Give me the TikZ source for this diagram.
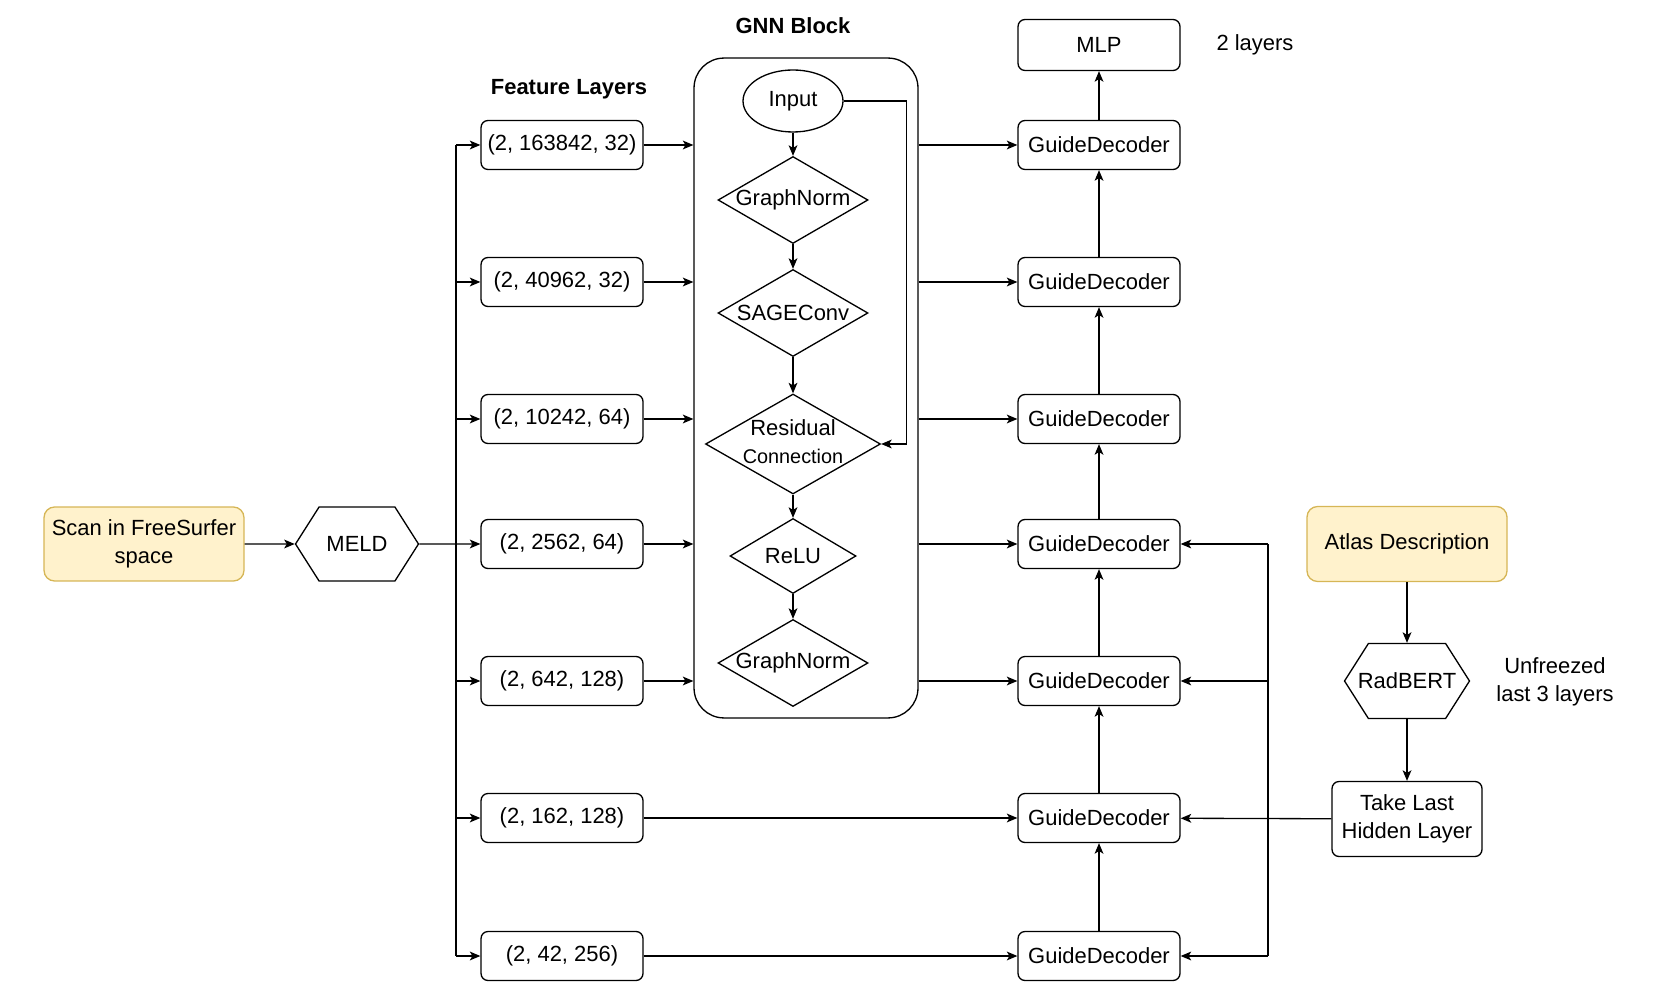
\documentclass[tikz,border=0pt]{standalone}
\usepackage{fontspec}
\setmainfont{Liberation Sans}
\usepackage{xcolor}
\usepackage{tikz}
\usetikzlibrary{shapes.geometric, shapes.misc, shapes.symbols, arrows.meta, positioning, calc}
\definecolor{noteyellow}{HTML}{FFF2CC}
\definecolor{noteedge}{HTML}{D6B656}

\begin{document}
\begin{tikzpicture}[
    x=0.02cm, y=-0.02cm,
    font=\fontsize{12.5}{16}\selectfont,
    box/.style={draw, line width=0.75pt, rounded corners=4pt, minimum width=3.24cm, minimum height=0.98cm, align=center, inner sep=1pt},
    note/.style={box, fill=noteyellow, draw=noteedge, rounded corners=6pt},
    hexa/.style={draw, line width=0.75pt, signal, signal to=west and east, signal pointer angle=115, inner sep=0pt},
    gate/.style={draw, line width=0.75pt, diamond, inner sep=0pt, minimum width=3cm, minimum height=1.74cm},
    title/.style={font=\fontsize{12.5}{15}\selectfont\bfseries},
    arrow/.style={-{Stealth[length=6pt, width=5pt, inset=1.5pt]}, line width=0.75pt},
    line/.style={line width=0.75pt}
]
    \useasboundingbox (0,0) rectangle (1673,996);

    % input side
    \node[note, minimum width=4cm, minimum height=1.48cm] at (144,544) (scan) {Scan in FreeSurfer\\space};
    \node[hexa, minimum width=2.46cm, minimum height=1.48cm] at (357,544) (meld) {\makebox[0pt]{MELD}};

    % feature layers
    \node[title] at (569,89) (feattitle) {Feature Layers};
    \node[box] at (562,145) (f1) {(2, 163842, 32)};
    \node[box] at (562,282) (f2) {(2, 40962, 32)};
    \node[box] at (562,419) (f3) {(2, 10242, 64)};
    \node[box] at (562,544) (f4) {(2, 2562, 64)};
    \node[box] at (562,681) (f5) {(2, 642, 128)};
    \node[box] at (562,818) (f6) {(2, 162, 128)};
    \node[box] at (562,956) (f7) {(2, 42, 256)};

    % GNN block
    \node[draw, line width=0.75pt, rounded corners=0.6cm, minimum width=4.48cm, minimum height=13.2cm] at (806,388) (gnn) {};
    \node[title] at (793,26) (gnntitle) {GNN Block};
    \node[draw, line width=0.75pt, ellipse, minimum width=2cm, minimum height=1.24cm, inner sep=0pt] at (793,101) (input) {Input};
    \node[gate] at (793,200) (norm1) {\makebox[0pt]{GraphNorm}};
    \node[gate] at (793,313) (sage) {\makebox[0pt]{SAGEConv}};
    \node[gate, minimum width=3.5cm, minimum height=2cm] at (793,444) (res) {\makebox[0pt]{\begin{tabular}{@{}c@{}}Residual\\{\fontsize{11.3}{13}\selectfont Connection}\end{tabular}}};
    \node[gate, minimum width=2.52cm, minimum height=1.5cm] at (793,556) (relu) {\makebox[0pt]{ReLU}};
    \node[gate] at (793,663) (norm2) {\makebox[0pt]{GraphNorm}};

    % decoders
    \node[box, minimum height=1.02cm] at (1099,45) (mlp) {MLP};
    \node at (1255,45) (mlpnote) {2 layers};
    \node[box] at (1099,145) (gd1) {GuideDecoder};
    \node[box] at (1099,282) (gd2) {GuideDecoder};
    \node[box] at (1099,419) (gd3) {GuideDecoder};
    \node[box] at (1099,544) (gd4) {GuideDecoder};
    \node[box] at (1099,681) (gd5) {GuideDecoder};
    \node[box] at (1099,818) (gd6) {GuideDecoder};
    \node[box] at (1099,956) (gd7) {GuideDecoder};

    % text side
    \node[note, minimum width=4cm, minimum height=1.5cm] at (1407,544) (atlas) {Atlas Description};
    \node[hexa, minimum width=2.5cm, minimum height=1.5cm] at (1407,681) (bert) {\makebox[0pt]{RadBERT}};
    \node[align=center] at (1555,682) (bertnote) {Unfreezed\\last 3 layers};
    \node[box, minimum width=3cm, minimum height=1.5cm] at (1407,819) (hidden) {Take Last\\Hidden Layer};

    % image path
    \draw[arrow] (scan) -- (meld);
    \draw[arrow] (meld) -- (f4);
    \coordinate (split) at (456,544);
    \draw[line] (split |- f1) -- (split |- f7);
    \draw[arrow] (split |- f1) -- (f1);
    \draw[arrow] (split |- f2) -- (f2);
    \draw[arrow] (split |- f3) -- (f3);
    \draw[arrow] (split |- f5) -- (f5);
    \draw[arrow] (split |- f6) -- (f6);
    \draw[arrow] (split |- f7) -- (f7);

    \draw[arrow] (f1) -- (f1 -| gnn.west);
    \draw[arrow] (f2) -- (f2 -| gnn.west);
    \draw[arrow] (f3) -- (f3 -| gnn.west);
    \draw[arrow] (f4) -- (f4 -| gnn.west);
    \draw[arrow] (f5) -- (f5 -| gnn.west);
    \draw[arrow] (f6) -- (gd6);
    \draw[arrow] (f7) -- (gd7);

    \draw[arrow] (input) -- (norm1);
    \draw[arrow] (norm1) -- (sage);
    \draw[arrow] (sage) -- (res);
    \draw[arrow] (res) -- (relu);
    \draw[arrow] (relu) -- (norm2);
    \draw[arrow] (input.east) -- ++(63,0) |- (res.east);

    \draw[arrow] (gd1 -| gnn.east) -- (gd1);
    \draw[arrow] (gd2 -| gnn.east) -- (gd2);
    \draw[arrow] (gd3 -| gnn.east) -- (gd3);
    \draw[arrow] (gd4 -| gnn.east) -- (gd4);
    \draw[arrow] (gd5 -| gnn.east) -- (gd5);

    \draw[arrow] (gd7) -- (gd6);
    \draw[arrow] (gd6) -- (gd5);
    \draw[arrow] (gd5) -- (gd4);
    \draw[arrow] (gd4) -- (gd3);
    \draw[arrow] (gd3) -- (gd2);
    \draw[arrow] (gd2) -- (gd1);
    \draw[arrow] (gd1) -- (mlp);

    % text path
    \draw[arrow] (atlas) -- (bert);
    \draw[arrow] (bert) -- (hidden);
    \draw[arrow] (hidden) -- (gd6);
    \coordinate (merge) at (1268,544);
    \draw[line] (merge) -- (merge |- gd7);
    \draw[arrow] (merge) -- (gd4);
    \draw[arrow] (merge |- gd5) -- (gd5);
    \draw[arrow] (merge |- gd7) -- (gd7);
\end{tikzpicture}
\end{document}
